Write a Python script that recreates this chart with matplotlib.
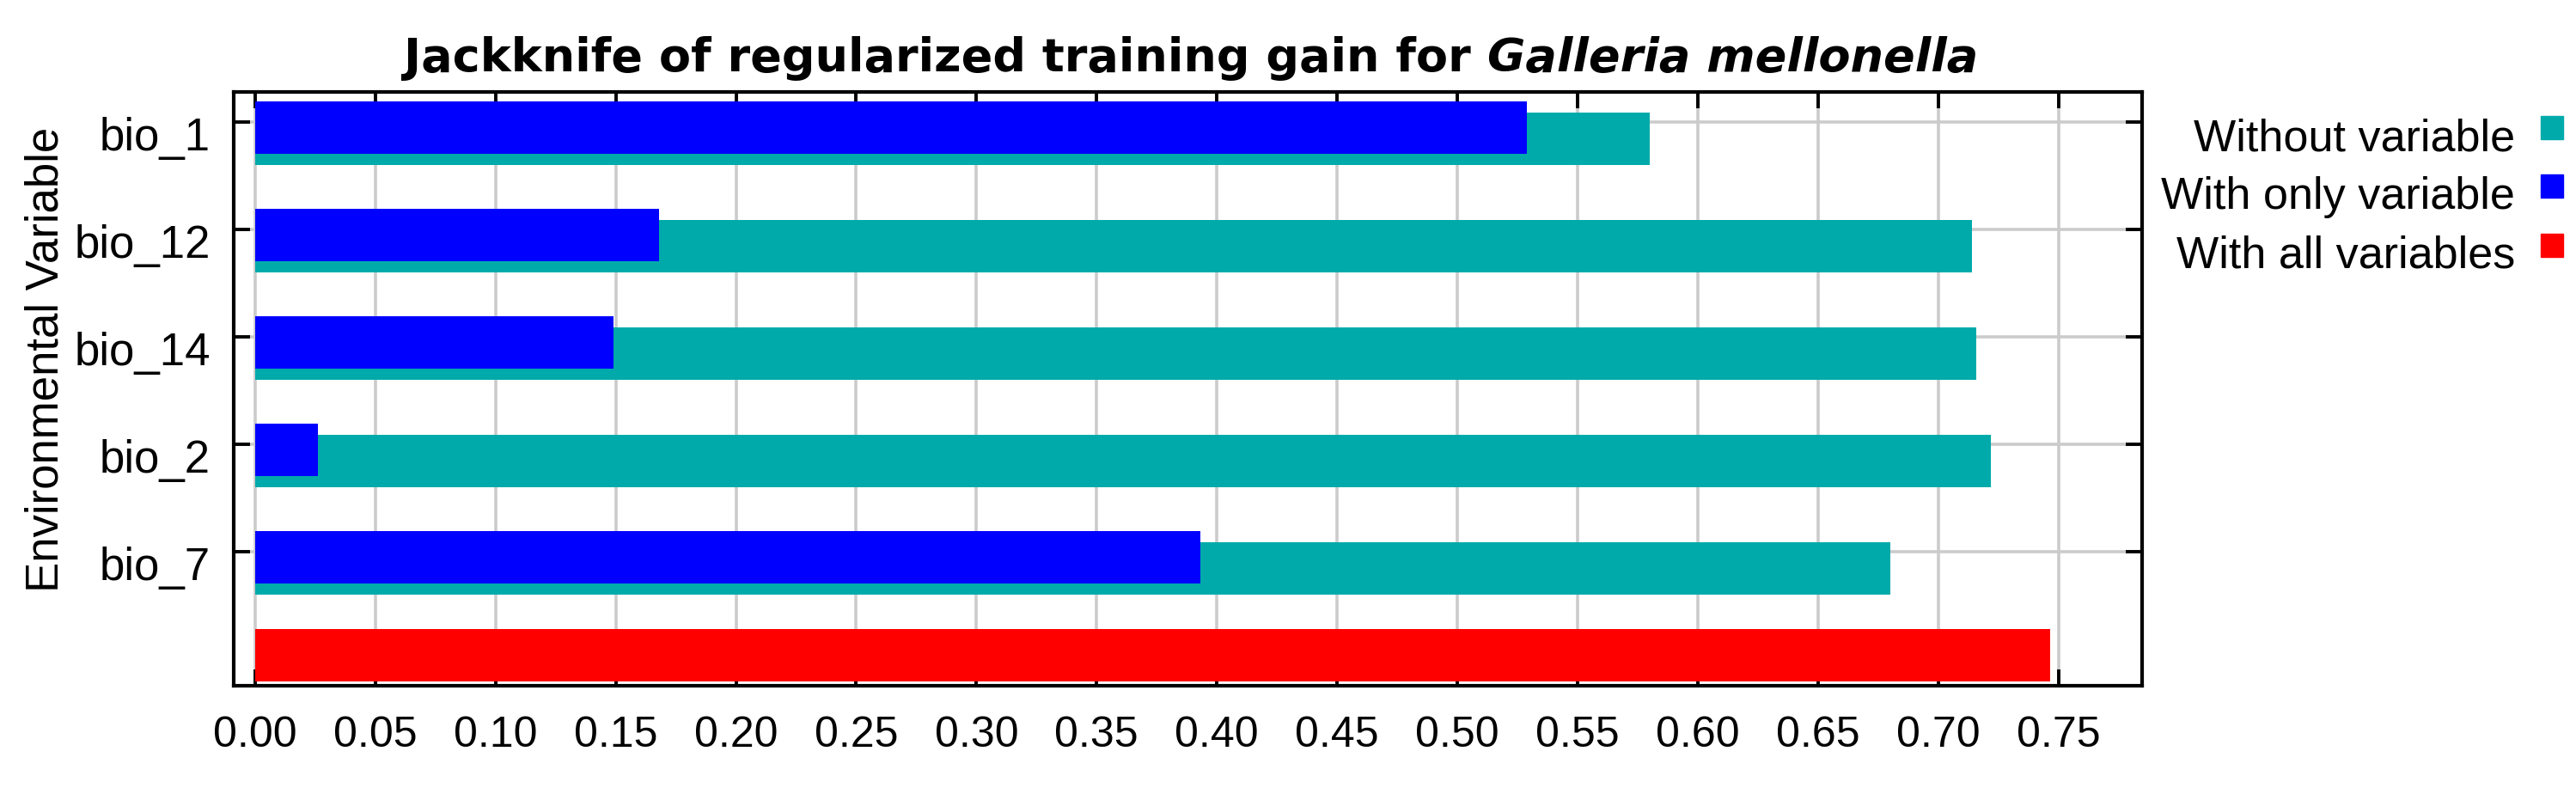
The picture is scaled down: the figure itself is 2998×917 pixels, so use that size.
import numpy as np
import matplotlib.pyplot as plt
from matplotlib.patches import Rectangle
from matplotlib.transforms import ScaledTranslation

# ---------------------------------
# Data
# ---------------------------------
variables = ["bio_1", "bio_12", "bio_14", "bio_2", "bio_7"]
without_variable = [0.580, 0.714, 0.716, 0.722, 0.680]
with_only_variable = [0.529, 0.168, 0.149, 0.026, 0.393]
with_all_variables = 0.7465

x_ticks = np.arange(0, 0.751, 0.05)

legend_labels = ["Without variable", "With only variable", "With all variables"]
teal = "#00AAAA"
blue = "#0000FF"
red = "#FF0000"
legend_colors = [teal, blue, red]

W, H = 2998, 917

# ---------------------------------
# Figure
# ---------------------------------
fig = plt.figure(figsize=(W / 100, H / 100), dpi=100)
ax = fig.add_axes([272 / W, 1 - 798 / H, (2493 - 272) / W, (798 - 107) / H])

rows = np.arange(len(variables))
bar_h = 0.488

ax.barh(rows + 0.156, without_variable, height=bar_h, color=teal, zorder=2)
ax.barh(rows + 0.052, with_only_variable, height=bar_h, color=blue, zorder=3)
ax.barh([len(variables) - 0.036], [with_all_variables], height=bar_h,
        color=red, zorder=3)

ax.set_xlim(-0.0089, 0.7848)
ax.set_ylim(5.25, -0.28)

ax.set_xticks(x_ticks)
ax.set_xticklabels([f"{v:.2f}" for v in x_ticks], family="Liberation Sans",
                   fontsize=36)
ax.set_yticks(rows)
ax.set_yticklabels(variables, family="Liberation Sans", fontsize=38)

ax.tick_params(axis="both", direction="in", length=13.5, width=2.8,
               top=True, right=True, color="black")
ax.tick_params(axis="x", pad=25)
ax.tick_params(axis="y", pad=19.5)

# labels sit on the middle of the bar pair, a bit below the tick
shift = ScaledTranslation(0, -14 / 100, fig.dpi_scale_trans)
for lab in ax.get_yticklabels():
    lab.set_transform(lab.get_transform() + shift)

ax.grid(True, color="#CBCBCB", linewidth=2.6, zorder=1)
ax.set_axisbelow(True)

for sp in ax.spines.values():
    sp.set_linewidth(3.0)
    sp.set_color("black")

fig.text(54 / W, 1 - 418 / H, "Environmental Variable", rotation=90,
         ha="center", va="center", family="Liberation Sans", fontsize=38)

# ---------------------------------
# Legend to the right: text, then colour square
# ---------------------------------
baselines = [175, 243, 312]
for lab, col, yb in zip(legend_labels, legend_colors, baselines):
    fig.text(2927 / W, 1 - yb / H, lab, ha="right", va="baseline",
             family="Liberation Sans", fontsize=37.5)
    fig.patches.append(Rectangle((2957 / W, 1 - (yb - 13) / H), 26 / W, 27 / H,
                                 transform=fig.transFigure, color=col,
                                 figure=fig))

# ---------------------------------
# Title: bold + bold italic species name
# ---------------------------------
ty = 1 - 83 / H
t1 = fig.text(0, ty, "Jackknife of regularized training gain for ",
              family="DejaVu Sans", weight="bold", fontsize=39, va="baseline")
t2 = fig.text(0, ty, "Galleria mellonella", family="DejaVu Sans",
              weight="bold", style="italic", fontsize=39, va="baseline")
r = fig.canvas.get_renderer()
w1 = t1.get_window_extent(r).width / fig.bbox.width
w2 = t2.get_window_extent(r).width / fig.bbox.width
x0 = 1386 / W - (w1 + w2) / 2
t1.set_x(x0)
t2.set_x(x0 + w1)

fig.savefig("out.png", dpi=100)
